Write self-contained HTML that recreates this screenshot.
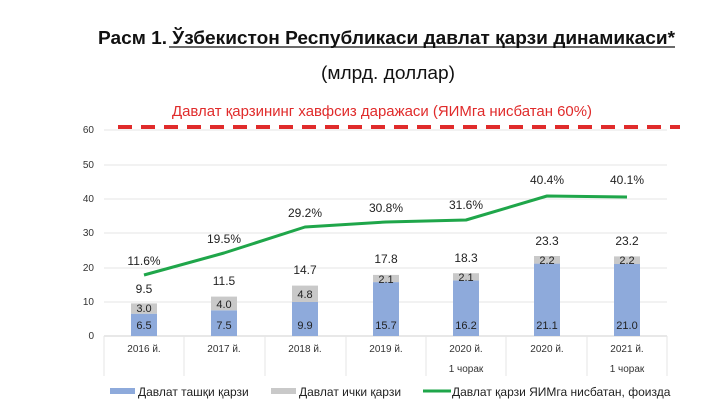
<!DOCTYPE html>
<html><head><meta charset="utf-8"><style>
html,body{margin:0;padding:0;background:#fff}
svg{display:block}
text{font-family:"Liberation Sans",sans-serif}
</style></head><body>
<svg width="728" height="409" viewBox="0 0 728 409" xmlns="http://www.w3.org/2000/svg">
<rect width="728" height="409" fill="#fff"/>
<text x="98" y="44" font-size="18" font-weight="bold" fill="#111" textLength="577" lengthAdjust="spacingAndGlyphs">Расм 1. Ўзбекистон Республикаси давлат қарзи динамикаси*</text>
<line x1="169" y1="47" x2="675" y2="47" stroke="#111" stroke-width="1.2"/>
<text x="321" y="79" font-size="18" fill="#111" textLength="134" lengthAdjust="spacingAndGlyphs">(млрд. доллар)</text>
<text x="172" y="116" font-size="15" fill="#e02b2b" textLength="420" lengthAdjust="spacingAndGlyphs">Давлат қарзининг хавфсиз даражаси (ЯИМга нисбатан 60%)</text>
<g stroke="#e6e6e6" stroke-width="1">
<line x1="104" y1="130" x2="667" y2="130"/><line x1="104" y1="165" x2="667" y2="165"/>
<line x1="104" y1="199" x2="667" y2="199"/><line x1="104" y1="233" x2="667" y2="233"/>
<line x1="104" y1="268" x2="667" y2="268"/><line x1="104" y1="302" x2="667" y2="302"/>
<line x1="104" y1="336" x2="667" y2="336" stroke="#d0d0d0"/>
<line x1="104" y1="336" x2="104" y2="376"/><line x1="184" y1="336" x2="184" y2="376"/>
<line x1="265" y1="336" x2="265" y2="376"/><line x1="346" y1="336" x2="346" y2="376"/>
<line x1="426" y1="336" x2="426" y2="376"/><line x1="506" y1="336" x2="506" y2="376"/>
<line x1="587" y1="336" x2="587" y2="376"/><line x1="667" y1="336" x2="667" y2="376"/>
</g>
<line x1="118" y1="127" x2="680" y2="127" stroke="#e02b2b" stroke-width="4" stroke-dasharray="14,9"/>
<g font-size="10" fill="#333" text-anchor="end">
<text x="94" y="133">60</text><text x="94" y="168">50</text><text x="94" y="202">40</text>
<text x="94" y="236">30</text><text x="94" y="271">20</text><text x="94" y="305">10</text><text x="94" y="339">0</text>
</g>
<g>
<rect x="131" y="313.7" width="26" height="22.3" fill="#8eaadb"/><rect x="131" y="303.4" width="26" height="10.3" fill="#c9c9c9"/>
<rect x="211" y="310.3" width="26" height="25.7" fill="#8eaadb"/><rect x="211" y="296.6" width="26" height="13.7" fill="#c9c9c9"/>
<rect x="292" y="302" width="26" height="34" fill="#8eaadb"/><rect x="292" y="285.6" width="26" height="16.4" fill="#c9c9c9"/>
<rect x="373" y="282.1" width="26" height="53.9" fill="#8eaadb"/><rect x="373" y="274.9" width="26" height="7.2" fill="#c9c9c9"/>
<rect x="453" y="280.4" width="26" height="55.6" fill="#8eaadb"/><rect x="453" y="273.2" width="26" height="7.2" fill="#c9c9c9"/>
<rect x="534" y="263.6" width="26" height="72.4" fill="#8eaadb"/><rect x="534" y="256" width="26" height="7.6" fill="#c9c9c9"/>
<rect x="614" y="264" width="26" height="72" fill="#8eaadb"/><rect x="614" y="256.4" width="26" height="7.6" fill="#c9c9c9"/>
</g>
<g font-size="11" fill="#222" text-anchor="middle">
<text x="144" y="329">6.5</text><text x="144" y="312">3.0</text>
<text x="224" y="329">7.5</text><text x="224" y="308">4.0</text>
<text x="305" y="329">9.9</text><text x="305" y="298">4.8</text>
<text x="386" y="329">15.7</text><text x="386" y="283">2.1</text>
<text x="466" y="329">16.2</text><text x="466" y="281">2.1</text>
<text x="547" y="329">21.1</text><text x="547" y="264">2.2</text>
<text x="627" y="329">21.0</text><text x="627" y="264">2.2</text>
</g>
<g font-size="12" fill="#222" text-anchor="middle">
<text x="144" y="293">9.5</text><text x="224" y="285">11.5</text><text x="305" y="274">14.7</text>
<text x="386" y="263">17.8</text><text x="466" y="262">18.3</text><text x="547" y="245">23.3</text><text x="627" y="245">23.2</text>
<text x="144" y="265">11.6%</text><text x="224" y="243">19.5%</text><text x="305" y="217">29.2%</text>
<text x="386" y="212">30.8%</text><text x="466" y="209">31.6%</text><text x="547" y="184">40.4%</text><text x="627" y="184">40.1%</text>
</g>
<polyline points="144,275 224,253 305,227 386,222 466,220 547,196 627,197" fill="none" stroke="#1fa64a" stroke-width="3" stroke-linejoin="round"/>
<g font-size="10" fill="#333" text-anchor="middle">
<text x="144" y="352">2016 й.</text><text x="224" y="352">2017 й.</text><text x="305" y="352">2018 й.</text>
<text x="386" y="352">2019 й.</text><text x="466" y="352">2020 й.</text><text x="547" y="352">2020 й.</text><text x="627" y="352">2021 й.</text>
<text x="466" y="372">1 чорак</text><text x="627" y="372">1 чорак</text>
</g>
<rect x="110" y="388" width="25" height="6" fill="#8eaadb"/>
<text x="138" y="396" font-size="12" fill="#222">Давлат ташқи қарзи</text>
<rect x="271" y="388" width="25" height="6" fill="#c9c9c9"/>
<text x="299" y="396" font-size="12" fill="#222">Давлат ички қарзи</text>
<line x1="423" y1="391" x2="451" y2="391" stroke="#1fa64a" stroke-width="3"/>
<text x="452" y="396" font-size="12" fill="#222">Давлат қарзи ЯИМга нисбатан, фоизда</text>
</svg>
</body></html>
